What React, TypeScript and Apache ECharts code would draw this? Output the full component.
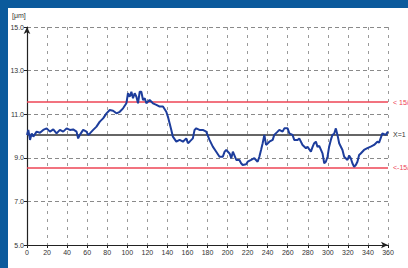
import React, { useEffect, useRef } from "react";
import * as echarts from "echarts";

const positions = [0, 1.3, 3, 4.7, 6.3, 9.6, 12.9, 16.2, 19.6, 22.9, 26.2, 29.5, 32.8, 36.1, 39.5, 42.8, 46, 49.4, 51, 52.7, 56, 59.3, 61, 62.7, 66, 69.3, 72.6, 75.9, 79.3, 82.5, 85.8, 89.2, 92.5, 95.8, 99.1, 100.7, 102.4, 104.1, 105.7, 107.4, 109.1, 110.7, 112.4, 114, 115.7, 117.4, 119, 122.3, 125.6, 129, 132.3, 135.6, 138.9, 140.5, 142.2, 143.9, 145.5, 148.9, 152.2, 155.5, 158.8, 160.5, 162.2, 165.4, 167.1, 168.8, 172, 175.3, 178.7, 182, 185.3, 188.7, 192, 195.3, 197.1, 198.7, 202, 203.7, 205.3, 208.7, 211.8, 213.5, 215.1, 218.5, 220.1, 223.5, 226.7, 230, 231.7, 233.4, 235, 236.7, 238.4, 241.7, 245, 246.6, 249.9, 251.6, 254.9, 256.6, 259.9, 261.6, 264.8, 266.5, 269.8, 271.5, 274.8, 278.2, 279.8, 283.1, 284.8, 286.4, 288.1, 289.7, 291.4, 294.7, 296.4, 298, 299.7, 301.3, 303, 304.6, 306.3, 308, 309.6, 311.3, 314.6, 316.3, 319.6, 321.2, 322.9, 324.5, 326.2, 327.9, 329.5, 331.2, 332.8, 336.1, 339.4, 342.8, 346.1, 349.4, 351.1, 354.4, 357.7, 360];
const thickness = [10.05, 10.28, 9.82, 10.12, 9.97, 10.2, 10.15, 10.28, 10.35, 10.2, 10.3, 10.12, 10.28, 10.2, 10.35, 10.28, 10.3, 10.2, 9.89, 10.05, 10.28, 10.2, 10.05, 10.12, 10.28, 10.43, 10.66, 10.81, 11.04, 11.19, 11.16, 11.04, 11.11, 11.27, 11.5, 11.96, 11.8, 12.03, 11.73, 11.96, 11.8, 11.5, 12.03, 12.03, 11.65, 11.73, 11.5, 11.65, 11.5, 11.43, 11.35, 11.35, 11.11, 10.89, 10.58, 10.28, 9.97, 9.74, 9.82, 9.74, 9.89, 9.67, 9.74, 9.89, 10.28, 10.35, 10.28, 10.28, 10.2, 9.82, 9.51, 9.28, 9.05, 9.05, 9.28, 9.36, 9.2, 8.98, 9.28, 8.9, 8.9, 8.75, 8.67, 8.7, 8.82, 8.9, 8.98, 8.82, 9.05, 9.36, 9.67, 10.05, 9.59, 9.74, 9.82, 10.05, 10.2, 10.28, 10.2, 10.35, 10.35, 10.12, 10.05, 9.82, 9.82, 9.89, 9.59, 9.44, 9.51, 9.28, 9.5, 9.67, 9.74, 9.5, 9.55, 9.2, 8.75, 8.82, 9.05, 9.51, 9.82, 10.05, 10.1, 10.35, 10.05, 9.67, 9.36, 9.05, 8.9, 9.1, 8.98, 8.75, 8.59, 8.67, 8.82, 9.13, 9.2, 9.36, 9.44, 9.51, 9.59, 9.74, 9.7, 10.12, 10.05, 10.2];

const meanValue = 10.05;
const upperLimit = 11.55;
const lowerLimit = 8.55;
const upperLabel = "< 15/";
const meanLabel = "X=1";
const lowerLabel = "<-15/";
const unitLabel = "[μm]";

const FONT = "'Liberation Sans Narrow', 'Liberation Sans', Arial, sans-serif";

export default function App() {
  const ref = useRef<HTMLDivElement>(null);
  useEffect(() => {
    if (!ref.current) return;
    const chart = echarts.init(ref.current, null, { renderer: "svg" });
    const lineData = positions.map((p, i) => [p, thickness[i]]);
    const limitItem = (y: number, color: string, text: string) => [
      {
        coord: [0, y],
        lineStyle: { color, width: 1.5, type: "solid" },
        label: {
          show: true,
          position: "end",
          distance: 5,
          formatter: text,
          color,
          fontSize: 7,
          fontFamily: FONT,
        },
      },
      { coord: [360, y] },
    ];
    chart.setOption({
      animation: false,
      backgroundColor: "#0b5a9c",
      graphic: [
        {
          type: "rect",
          z: -10,
          shape: { x: 8, y: 8, width: 400, height: 260 },
          style: { fill: "#ffffff" },
        },
        {
          type: "text",
          x: 12,
          y: 12,
          style: { text: unitLabel, fontSize: 7, fill: "#333", fontFamily: FONT },
        },
      ],
      grid: { left: 27, right: 20, top: 27, bottom: 23 },
      xAxis: {
        type: "value",
        min: 0,
        max: 360,
        interval: 20,
        axisLine: {
          show: true,
          lineStyle: { color: "#222", width: 1.2 },
          symbol: ["none", "arrow"],
          symbolSize: [5, 7],
        },
        axisTick: { show: true, length: 3, lineStyle: { color: "#222" } },
        axisLabel: { fontSize: 7, color: "#333", margin: 4, fontFamily: FONT },
        splitLine: {
          show: true,
          lineStyle: { color: "#9a9a9a", type: [3, 5], width: 1 },
        },
      },
      yAxis: {
        type: "value",
        min: 5,
        max: 15,
        interval: 2,
        axisLine: {
          show: true,
          lineStyle: { color: "#222", width: 1.2 },
          symbol: ["none", "arrow"],
          symbolSize: [5, 7],
        },
        axisTick: { show: true, length: 3, lineStyle: { color: "#222" } },
        axisLabel: {
          fontSize: 7,
          color: "#333",
          margin: 3,
          fontFamily: FONT,
          formatter: (v: number) => v.toFixed(1),
        },
        splitLine: {
          show: true,
          lineStyle: { color: "#8a8a8a", type: [4, 3], width: 1 },
        },
      },
      series: [
        {
          type: "line",
          data: lineData,
          showSymbol: false,
          lineStyle: { color: "#1d3d9c", width: 2 },
          z: 5,
          markLine: {
            silent: true,
            symbol: ["none", "none"],
            z: 3,
            data: [
              limitItem(upperLimit, "#ee4455", upperLabel),
              limitItem(lowerLimit, "#ee4455", lowerLabel),
              limitItem(meanValue, "#333333", meanLabel),
            ],
          },
        },
      ],
    });
    return () => chart.dispose();
  }, []);
  return (
    <div
      ref={ref}
      style={{ position: "fixed", left: 0, top: 0, width: 408, height: 268 }}
    />
  );
}
